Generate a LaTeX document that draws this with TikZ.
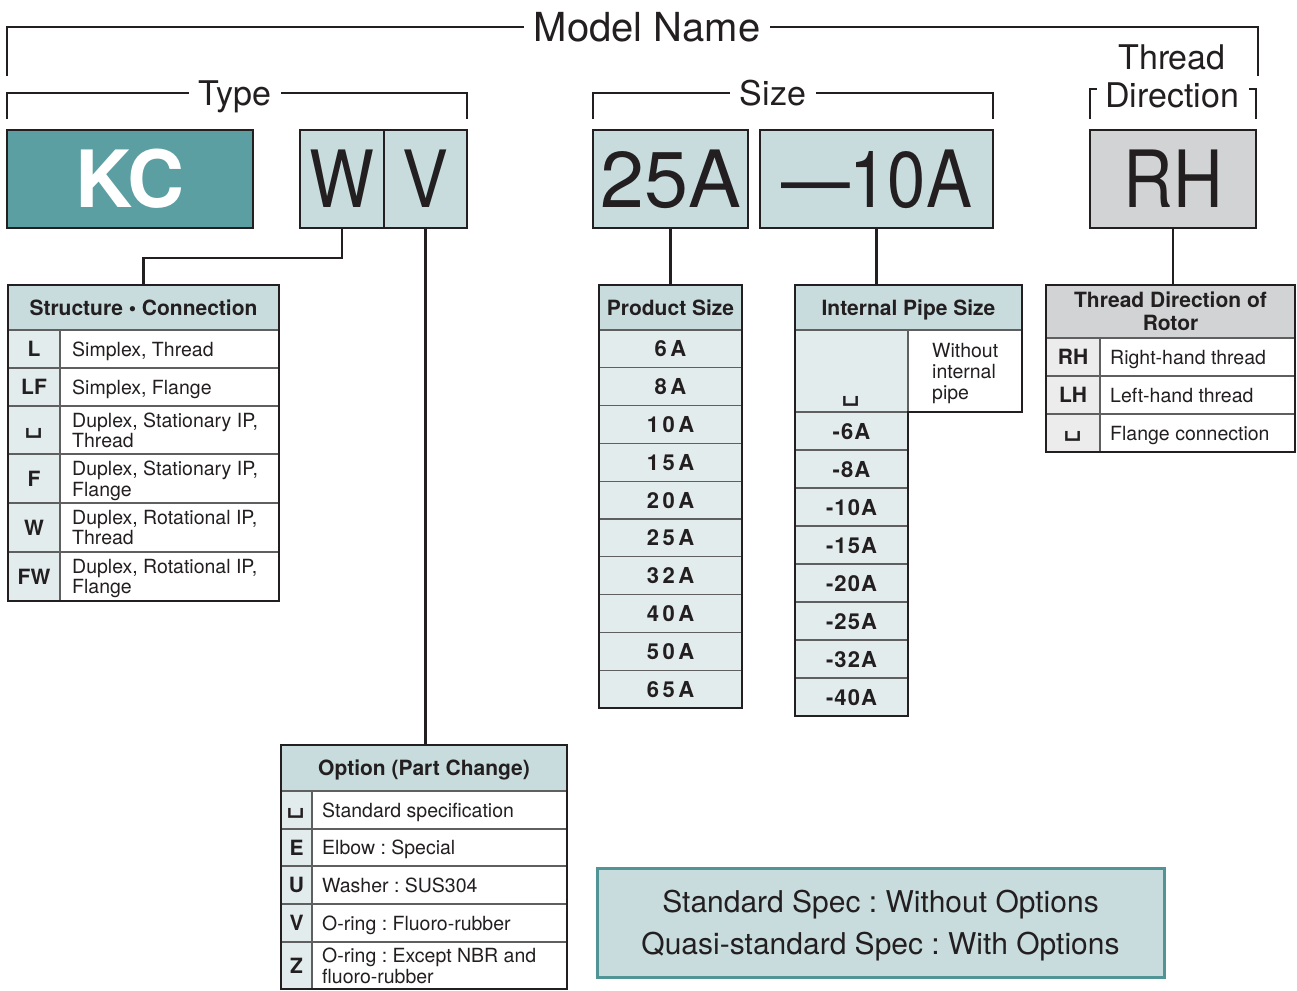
\documentclass[tikz,border=0pt]{standalone}
\usepackage{fontspec}
\setmainfont{TeX Gyre Heros}
\newfontfamily\condfont[FakeStretch=0.87]{TeX Gyre Heros}
\newfontfamily\spacedfont[LetterSpace=16]{TeX Gyre Heros}
\newfontfamily\pipefont[LetterSpace=5]{TeX Gyre Heros}
\newfontfamily\symfont{DejaVu Sans}
\usetikzlibrary{positioning}
\definecolor{ink}{RGB}{35,31,32}
\definecolor{rulegrey}{RGB}{95,95,95}
\definecolor{kcteal}{RGB}{91,159,162}
\definecolor{specedge}{RGB}{80,148,150}
\definecolor{pale}{RGB}{200,220,222}
\definecolor{paler}{RGB}{226,236,237}
\definecolor{greyhead}{RGB}{210,211,213}
\definecolor{greykey}{RGB}{236,236,237}
\newcommand{\blank}{{\symfont\mdseries\fontsize{30}{21}\selectfont ␣}}
\tikzset{
  bigbox/.style={draw=ink,line width=2.5pt,fill=pale,anchor=north west,inner sep=0pt,outer sep=0pt,
                 minimum height=98,text=ink,font=\fontsize{79}{79}\selectfont},
  bigcond/.style={bigbox,font=\condfont\fontsize{79}{79}\selectfont},
  brk/.style={draw=ink,line width=2.5pt},
  brklbl/.style={fill=white,inner xsep=10pt,inner ysep=2pt,text depth=0pt,text=ink,
                 font=\fontsize{34}{38}\selectfont},
  conn/.style={draw=ink,line width=2.5pt},
  frame/.style={draw=ink,line width=2.5pt},
  cell/.style={draw=rulegrey,line width=1.3pt,anchor=north west,inner sep=0pt,outer sep=0pt,
               text depth=0pt,text=ink},
  headcell/.style={cell,fill=pale,align=center,font=\bfseries\fontsize{21}{23}\selectfont},
  keycell/.style={cell,fill=paler,align=center,font=\bfseries\fontsize{21}{21}\selectfont},
  desccell/.style={cell,fill=white},
  desctext/.style={anchor=west,align=left,inner sep=0pt,text depth=0pt,text=ink,
                   font=\fontsize{19.5}{20.5}\selectfont},
  sizecell/.style={keycell,font=\spacedfont\bfseries\fontsize{22}{21}\selectfont},
  pipecell/.style={keycell,font=\pipefont\bfseries\fontsize{22}{21}\selectfont},
  specbox/.style={draw=specedge,line width=3pt,fill=pale,align=center,text depth=0pt,text=ink,
                  font=\fontsize{30}{42}\selectfont},
}
\begin{document}
\frenchspacing
\begin{tikzpicture}[x=1pt,y=-1pt]
  \useasboundingbox (0,0) rectangle (1297,990);
  % brackets over the code
  \draw[brk] (7,76) -- (7,27) -- (1258,27) -- (1258,76);
  \node[brklbl,font=\fontsize{40}{40}\selectfont] (mname) at (647,27) {Model Name};
  \draw[brk] (7,119) -- (7,93) -- (467,93) -- (467,119);
  \node[brklbl] (type) at (235,93) {Type};
  \draw[brk] (593,119) -- (593,93) -- (993,93) -- (993,119);
  \node[brklbl] (size) at (773,93) {Size};
  \node[brklbl,fill=none,align=center] (tdir) at (1172,76) {Thread\\Direction};
  \draw[brk] (1097,89) -- (1090,89) -- (1090,119);
  \draw[brk] (1249,89) -- (1256,89) -- (1256,119);

  % model code boxes
  \node[bigbox,fill=kcteal,text=white,minimum width=246,font=\bfseries\fontsize{79}{79}\selectfont] (kc) at (7,130) {KC};
  \node[bigcond,minimum width=84] (w) at (300,130) {W};
  \node[bigcond,right=0pt of w,minimum width=83] (v) {V};
  \node[bigbox,minimum width=155] (s25) at (593,130) {25A};
  \node[bigcond,right=12pt of s25,minimum width=233] (s10) {—10A};
  \node[bigcond,fill=greyhead,minimum width=166] (rh) at (1090,130) {RH};

  % structure / connection
  \node[headcell,minimum width=271,minimum height=45] (sth) at (8,285) {Structure • Connection};
  \foreach \k/\d/\y/\h [count=\i] in {L/{Simplex, Thread}/330/38, LF/{Simplex, Flange}/368/38,
      \blank/{Duplex, Stationary IP,\\Thread}/406/48, F/{Duplex, Stationary IP,\\Flange}/454/49,
      W/{Duplex, Rotational IP,\\Thread}/503/49, FW/{Duplex, Rotational IP,\\Flange}/552/49}
  {
    \node[keycell,minimum width=52,minimum height=\h] (stk\i) at (8,\y) {\k};
    \node[desccell,minimum width=219,minimum height=\h] (std\i) at (60,\y) {};
    \node[desctext] at ([xshift=12]std\i.west) {\d};
  }
  \draw[frame] (sth.north west) rectangle (std6.south east);

  % product size
  \node[headcell,minimum width=143,minimum height=45] (psh) at (599,285) {Product Size};
  \foreach \v [count=\i from 0] in {6A,8A,10A,15A,20A,25A,32A,40A,50A,65A}
    \node[sizecell,minimum width=143,minimum height=37.8] (ps\i) at (599,{330+37.8*\i}) {\v};
  \draw[frame] (psh.north west) rectangle (ps9.south east);

  % internal pipe size
  \node[headcell,minimum width=227,minimum height=45] (iph) at (795,285) {Internal Pipe Size};
  \node[keycell,minimum width=113,minimum height=82] (ipk0) at (795,330) {\strut\\\strut\\\blank};
  \node[desccell,minimum width=114,minimum height=82] (ipd0) at (908,330) {};
  \node[desctext,font=\fontsize{19.5}{21}\selectfont] at ([xshift=24]ipd0.west) {Without\\internal\\pipe};
  \foreach \v [count=\i] in {-6A,-8A,-10A,-15A,-20A,-25A,-32A,-40A}
    \node[pipecell,minimum width=113,minimum height=38] (ipk\i) at (795,{412+38*(\i-1)}) {\v};
  \draw[frame] (iph.north west) -- (iph.north east) -- (ipd0.south east) -- (ipd0.south west)
    -- (ipk8.south east) -- (ipk8.south west) -- cycle;

  % thread direction of rotor
  \node[headcell,fill=greyhead,minimum width=249,minimum height=53] (tdh) at (1046,285) {Thread Direction of\\Rotor};
  \foreach \k/\d/\y [count=\i] in {RH/Right-hand thread/338, LH/Left-hand thread/376, \blank/Flange connection/414}
  {
    \node[keycell,fill=greykey,minimum width=54,minimum height=38] (tdk\i) at (1046,\y) {\k};
    \node[desccell,minimum width=195,minimum height=38] (tdd\i) at (1100,\y) {};
    \node[desctext] at ([xshift=10]tdd\i.west) {\d};
  }
  \draw[frame] (tdh.north west) rectangle (tdd3.south east);

  % option
  \node[headcell,minimum width=286,minimum height=46] (oph) at (281,745) {Option (Part Change)};
  \foreach \k/\d/\y/\h [count=\i] in {\blank/Standard specification/791/38, E/{Elbow : Special}/829/37,
      U/{Washer : SUS304}/866/38, V/{O-ring : Fluoro-rubber}/904/38,
      Z/{O-ring : Except NBR and\\fluoro-rubber}/942/47}
  {
    \node[keycell,minimum width=31,minimum height=\h] (opk\i) at (281,\y) {\k};
    \node[desccell,minimum width=255,minimum height=\h] (opd\i) at (312,\y) {};
    \node[desctext] at ([xshift=10]opd\i.west) {\d};
  }
  \draw[frame] (oph.north west) rectangle (opd5.south east);

  % connectors
  \draw[conn] (w.south) -- ++(0,30) -| (sth.north);
  \draw[conn] (v.south) -- (v.south |- oph.north);
  \draw[conn] (s25.south) -- (s25.south |- psh.north);
  \draw[conn] (s10.south) -- (s10.south |- iph.north);
  \draw[conn] (rh.south) -- (rh.south |- tdh.north);

  \node[specbox,minimum width=567,minimum height=109] (spec) at (880.5,922.5)
    {Standard Spec : Without Options\\Quasi-standard Spec : With Options};
\end{tikzpicture}
\end{document}
